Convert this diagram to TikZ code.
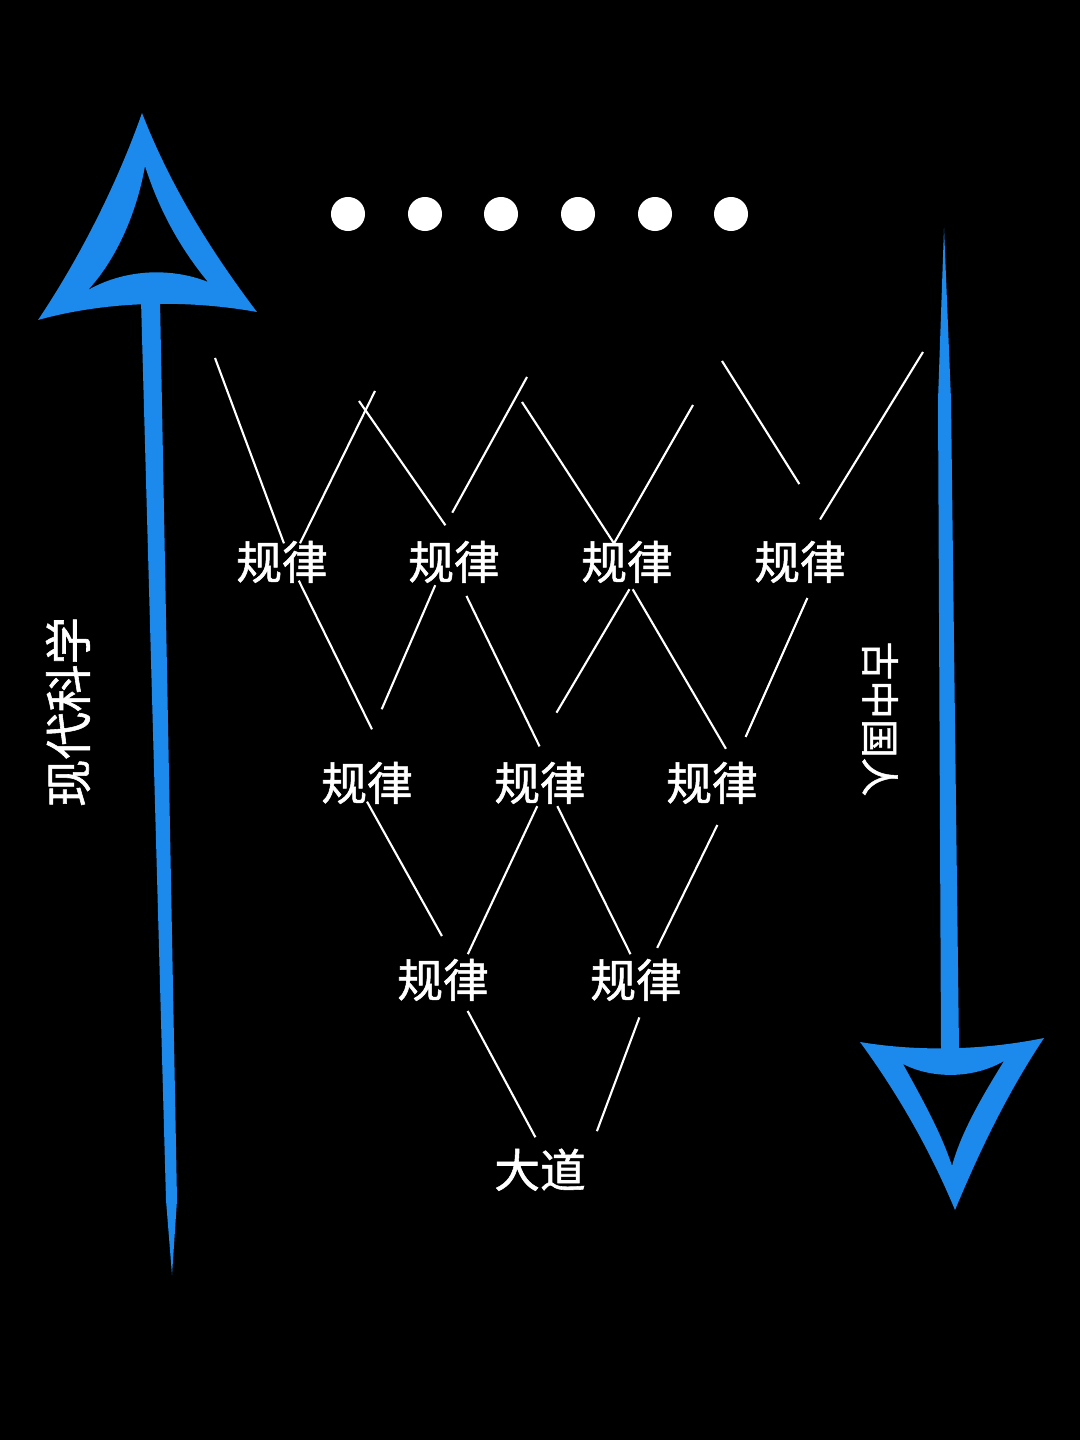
\documentclass[tikz,border=0pt]{standalone}
\usepackage{fontspec}
\setmainfont{Noto Sans CJK SC}[FakeBold=1.2]
\definecolor{arrowblue}{RGB}{28,138,236}
\tikzset{
  law/.style={text=white, inner sep=0pt, text height=1em, text depth=0.02em,
    font=\fontsize{13pt}{15pt}\selectfont},
  link/.style={white, line width=0.6pt},
  brush/.style={fill=arrowblue, even odd rule},
}

\begin{document}
\begin{tikzpicture}[x=0.01cm,y=-0.01cm]
\fill[black] (0,0) rectangle (1080,1440);
% dots
\foreach \x in {348,425,501,578,655,731}{
  \fill[white] (\x,214) circle (0.17cm);
}
% rules and the great way
\node[law] (a1) at (282,562) {规律};
\node[law] (a2) at (454,562) {规律};
\node[law] (a3) at (627,562) {规律};
\node[law] (a4) at (800,562) {规律};
\node[law] (b1) at (367,783) {规律};
\node[law] (b2) at (540,783) {规律};
\node[law] (b3) at (712,783) {规律};
\node[law] (c1) at (443,980) {规律};
\node[law] (c2) at (636,980) {规律};
\node[law] (dao) at (540,1170) {大道};
% loose ends on top
\coordinate (t1) at (215,358);
\coordinate (t2) at (375,391);
\coordinate (t3) at (359,401);
\coordinate (t4) at (527,377);
\coordinate (t5) at (522,402);
\coordinate (t6) at (693,405);
\coordinate (t7) at (722,361);
\coordinate (t8) at (923,352);
\draw[link] (t1) -- (a1.84);
\draw[link] (t2) -- (a1.46);
\draw[link, shorten >=0.22cm] (t3) -- (a2.78);
\draw[link, shorten >=0.35cm] (t4) -- (a2.135);
\draw[link] (t5) -- (a3.125) -- (t6);
\draw[link, shorten >=0.7cm] (t7) -- (a4.27);
\draw[link, shorten >=0.28cm] (t8) -- (a4.74);
% first row to second row
\draw[link, shorten >=0.39cm] (a1.-48) -- (b1.40);
\draw[link, shorten <=0.05cm, shorten >=0.6cm] (a2.228) -- (b1.116);
\draw[link, shorten <=0.17cm, shorten >=0.2cm] (a2.-75) -- (b2.66);
\draw[link, shorten <=0.1cm, shorten >=0.6cm] (a3.-68) -- (b2.127);
\draw[link, shorten <=0.1cm, shorten >=0.18cm] (a3.-88) -- (b3.39);
\draw[link, shorten <=0.19cm, shorten >=0.3cm] (a4.-51) -- (b3.41);
% second row to third row
\draw[link, shorten >=0.29cm] (b1.-90) -- (c1.55);
\draw[link, shorten <=0.05cm, shorten >=0.08cm] (b2.-92) -- (c1.41);
\draw[link, shorten <=0.05cm, shorten >=0.08cm] (b2.-51) -- (c2.96);
\draw[link, shorten <=0.26cm, shorten >=0.15cm] (b3.-48) -- (c2.52);
% third row to dao
\draw[link, shorten <=0.14cm, shorten >=0.16cm] (c1.-46) -- (dao.81);
\draw[link, shorten <=0.2cm, shorten >=0.3cm] (c2.-61) -- (dao.13);
% left arrow, going up
\fill[arrowblue] (141,300) -- (166,1200) -- (172,1275) -- (177,1200) -- (160,300) -- cycle;
\fill[brush] (142,113) .. controls (115,190) and (75,265) .. (38,320)
  .. controls (110,300) and (190,300) .. (257,312)
  .. controls (210,250) and (170,185) .. (142,113) -- cycle
  (145,166) .. controls (136,217) and (114,262) .. (88,290)
  .. controls (127,268) and (173,268) .. (208,282)
  .. controls (180,248) and (159,210) .. (145,166) -- cycle;
% right arrow, going down
\fill[arrowblue] (944,228) -- (938,400) -- (941,1050) -- (959,1050) -- (951,400) -- cycle;
\fill[brush] (860,1042) .. controls (920,1052) and (985,1050) .. (1044,1038)
  .. controls (1008,1092) and (980,1150) .. (955,1210)
  .. controls (930,1150) and (898,1094) .. (860,1042) -- cycle
  (903,1064) .. controls (932,1079) and (973,1079) .. (1004,1061)
  .. controls (983,1095) and (961,1132) .. (952,1166)
  .. controls (941,1132) and (920,1095) .. (903,1064) -- cycle;
% side labels
\node[text=white, rotate=90, font=\fontsize{13.5pt}{16pt}\selectfont] (modern) at (68,712) {现代科学};
\node[text=white, rotate=-90, font=\fontsize{11pt}{13pt}\selectfont] (ancient) at (880,719) {古中国人};
\end{tikzpicture}
\end{document}
